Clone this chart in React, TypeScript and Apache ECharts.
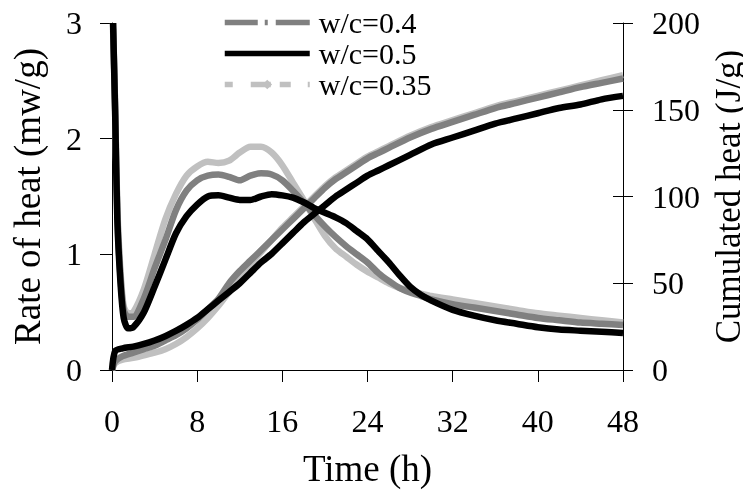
import React, { useEffect, useRef } from 'react';
import * as echarts from 'echarts';

const FONT = 'serif';
const SERIES_NAMES = ['w/c=0.4', 'w/c=0.5', 'w/c=0.35'];
const COLORS = ['#808080', '#000000', '#c0c0c0'];

// time (h) for rate-of-heat curves
const T_RATE = [0.1, 0.3, 0.5, 0.8, 1.1, 1.5, 2, 3, 4, 5, 6, 7, 8, 9, 10, 11, 12, 13, 14, 15, 16, 17, 18, 19, 20, 21, 22, 23, 24, 25, 26, 27, 28, 29, 30, 32, 34, 36, 38, 40, 42, 44, 46, 48];
// rate of heat (mW/g)
const RATE_04 = [3.0, 2.25, 1.35, 0.8, 0.52, 0.46, 0.46, 0.62, 0.88, 1.12, 1.38, 1.55, 1.64, 1.68, 1.69, 1.67, 1.64, 1.68, 1.70, 1.69, 1.64, 1.55, 1.45, 1.34, 1.24, 1.15, 1.07, 1.00, 0.93, 0.84, 0.77, 0.71, 0.67, 0.64, 0.61, 0.57, 0.54, 0.51, 0.48, 0.45, 0.43, 0.41, 0.40, 0.39];
const RATE_05 = [3.0, 2.2, 1.3, 0.75, 0.45, 0.36, 0.37, 0.5, 0.72, 0.95, 1.18, 1.33, 1.43, 1.50, 1.51, 1.49, 1.47, 1.47, 1.50, 1.52, 1.51, 1.49, 1.45, 1.40, 1.36, 1.32, 1.27, 1.20, 1.13, 1.03, 0.93, 0.82, 0.72, 0.65, 0.60, 0.52, 0.47, 0.43, 0.40, 0.37, 0.35, 0.34, 0.33, 0.32];
const RATE_035 = [2.95, 2.25, 1.4, 0.85, 0.55, 0.49, 0.5, 0.7, 1.0, 1.3, 1.52, 1.68, 1.76, 1.80, 1.79, 1.81, 1.88, 1.93, 1.93, 1.88, 1.77, 1.62, 1.47, 1.31, 1.16, 1.05, 0.98, 0.91, 0.85, 0.80, 0.75, 0.71, 0.68, 0.66, 0.64, 0.61, 0.58, 0.55, 0.52, 0.49, 0.47, 0.45, 0.43, 0.41];

// time (h) for cumulated heat curves
const T_CUM = [0, 0.3, 1, 2, 3, 4, 5, 6, 7, 8, 9, 10, 11, 12, 13, 14, 15, 16, 17, 18, 19, 20, 21, 22, 23, 24, 25, 26, 28, 30, 32, 34, 36, 38, 40, 42, 44, 46, 48];
// cumulated heat (J/g)
const CUM_04 = [0, 5, 8, 10, 12, 14, 17, 20, 24, 29, 35, 41, 50, 57, 63, 69, 75, 81, 87, 93, 99, 105, 110, 114, 118, 122, 125, 128, 134, 139, 143, 147, 151, 154, 157, 160, 163, 165.5, 168];
const CUM_05 = [0, 11, 12.5, 13.5, 15, 17, 19.5, 22.5, 26, 30, 35, 40, 45, 50, 56, 62, 67, 73, 79, 85, 90, 95, 100, 104, 108, 112, 115, 118, 124, 130, 134, 138, 142, 145, 148, 151, 153, 156, 158];
const CUM_035 = [0, 4, 6, 7, 8.5, 10, 12, 15, 19, 24, 30, 37, 45, 53, 61, 68, 75, 82, 88, 94, 100, 106, 111, 115, 119, 123, 126, 129, 135, 140, 144, 148, 152, 155, 158, 161, 164, 167, 170];

const pairs = (xs: number[], ys: number[]) => xs.map((x, i) => [x, ys[i]]);

export default function App() {
  const ref = useRef<HTMLDivElement>(null);
  useEffect(() => {
    if (!ref.current) return;
    const chart = echarts.init(ref.current, null, { renderer: 'svg' });
    const rates = [RATE_04, RATE_05, RATE_035];
    const cums = [CUM_04, CUM_05, CUM_035];
    const symbols = ['circle', 'circle', 'diamond'];
    const order = [2, 0, 1];
    const series: any[] = [];
    order.forEach((k) => {
      series.push({
        name: SERIES_NAMES[k], type: 'line', yAxisIndex: 0,
        data: pairs(T_RATE, rates[k]), smooth: 0.25, showSymbol: false,
        symbol: symbols[k], symbolSize: 10,
        lineStyle: { color: COLORS[k], width: 6.5 }, itemStyle: { color: COLORS[k] },
      });
      series.push({
        name: SERIES_NAMES[k], type: 'line', yAxisIndex: 1,
        data: pairs(T_CUM, cums[k]), smooth: 0.25, showSymbol: false,
        symbol: symbols[k], symbolSize: 10,
        lineStyle: { color: COLORS[k], width: 6.5 }, itemStyle: { color: COLORS[k] },
      });
    });
    chart.setOption({
      animation: false,
      grid: { left: 112, right: 120, top: 23, bottom: 134, outerBoundsMode: 'none' },
      legend: {
        orient: 'vertical', left: 222, top: 7, padding: 0, itemGap: 0,
        itemWidth: 85, itemHeight: 12,
        textStyle: { fontFamily: FONT, color: '#000', fontSize: 30, lineHeight: 31, padding: [0, 0, 0, 4] },
        data: [
          { name: SERIES_NAMES[0], lineStyle: { color: COLORS[0], width: 5.5, type: [33, 7, 3, 8, 34] }, itemStyle: { opacity: 0 } },
          { name: SERIES_NAMES[1], lineStyle: { color: COLORS[1], width: 5.5, type: 'solid' }, itemStyle: { opacity: 0 } },
          { name: SERIES_NAMES[2], lineStyle: { color: COLORS[2], width: 5.5, type: [8, 18, 20, 9, 11, 17, 3] }, itemStyle: { color: COLORS[2] } },
        ],
      },
      xAxis: {
        type: 'value', min: 0, max: 48, interval: 8,
        name: 'Time (h)', nameLocation: 'middle', nameGap: 80,
        nameTextStyle: { fontFamily: FONT, color: '#000', fontSize: 37 },
        axisLine: { onZero: false, lineStyle: { color: '#000', width: 1 } },
        axisTick: { inside: false, length: 12, lineStyle: { color: '#000' } },
        axisLabel: { fontFamily: FONT, color: '#000', fontSize: 32, margin: 35 },
        splitLine: { show: false },
      },
      yAxis: [
        {
          type: 'value', position: 'left', min: 0, max: 3, interval: 1,
          name: 'Rate of heat (mw/g)', nameLocation: 'middle', nameGap: 66, nameRotate: 90,
          nameTextStyle: { fontFamily: FONT, color: '#000', fontSize: 37 },
          axisLine: { show: true, lineStyle: { color: '#000', width: 1 } },
          axisTick: { show: true, inside: false, length: 12, lineStyle: { color: '#000' } },
          axisLabel: { fontFamily: FONT, color: '#000', fontSize: 32, margin: 30 },
          splitLine: { show: false },
        },
        {
          type: 'value', position: 'right', min: 0, max: 200, interval: 50,
          name: 'Cumulated heat (J/g)', nameLocation: 'middle', nameGap: 70, nameRotate: 90,
          nameTextStyle: { fontFamily: FONT, color: '#000', fontSize: 35 },
          axisLine: { show: true, lineStyle: { color: '#000', width: 1 } },
          axisTick: { show: true, inside: false, length: 10, lineStyle: { color: '#000' } },
          axisLabel: { fontFamily: FONT, color: '#000', fontSize: 32, margin: 29 },
          splitLine: { show: false },
        },
        {
          type: 'value', position: 'right', min: 0, max: 200, interval: 50,
          axisLine: { show: false },
          axisTick: { show: true, inside: true, length: 10, lineStyle: { color: '#000' } },
          axisLabel: { show: false },
          splitLine: { show: false },
        },
      ],
      series,
    });
    return () => chart.dispose();
  }, []);
  return <div ref={ref} style={{ position: 'fixed', left: 0, top: 0, width: 743, height: 504 }} />;
}
